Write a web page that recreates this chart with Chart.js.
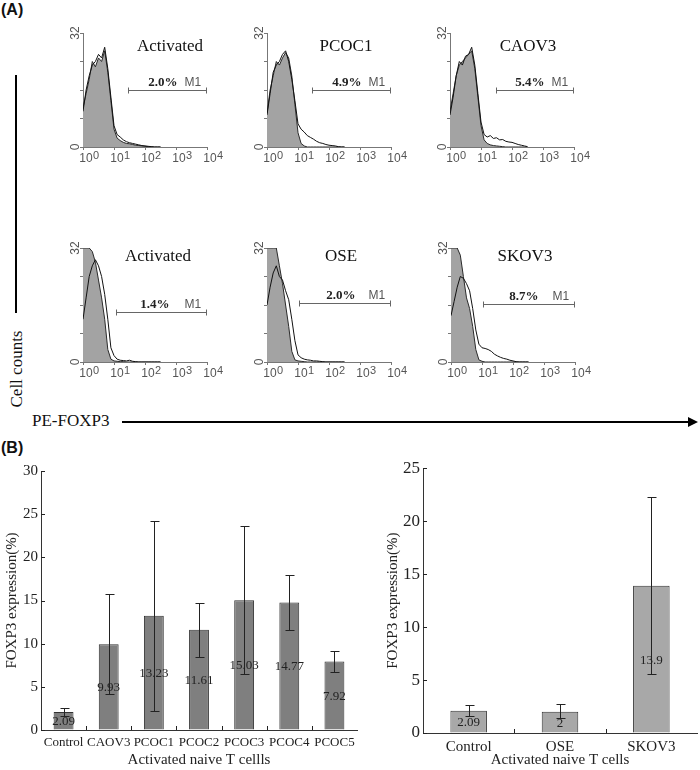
<!DOCTYPE html>
<html>
<head>
<meta charset="utf-8">
<script src="https://cdn.jsdelivr.net/npm/chart.js@4.4.1/dist/chart.umd.min.js"></script>
<style>
  body { margin: 0; background: #fff; }
  #fig { position: relative; width: 700px; height: 770px; background: #fff; overflow: hidden; }
  #fig canvas { position: absolute; }
  .lbl { position: absolute; white-space: nowrap; color: #111; }
  .serif { font-family: "Liberation Serif", "Times New Roman", serif; }
  .panel { font-family: "Liberation Sans", Arial, sans-serif; font-weight: bold; font-size: 16px; }
</style>
</head>
<body>
<div id="fig">
  <div class="lbl panel" style="left:1px; top:1px;">(A)</div>
  <div class="lbl panel" style="left:1px; top:439px;">(B)</div>

  <div style="position:absolute; left:15px; top:75px; width:2px; height:238px; background:#000;"></div>
  <div class="lbl serif" style="left:-43px; top:359px; width:120px; height:20px; line-height:20px; text-align:center; font-size:17px; transform:rotate(-90deg);">Cell counts</div>

  <div class="lbl serif" style="left:32px; top:411px; font-size:17px; line-height:20px;">PE-FOXP3</div>
  <div style="position:absolute; left:122px; top:421px; width:568px; height:2px; background:#000;"></div>
  <div style="position:absolute; left:688px; top:417px; width:0; height:0; border-left:10px solid #000; border-top:5px solid transparent; border-bottom:5px solid transparent;"></div>

  <canvas id="h0" width="174" height="168"></canvas>
  <canvas id="h1" width="174" height="168"></canvas>
  <canvas id="h2" width="174" height="168"></canvas>
  <canvas id="h3" width="174" height="168"></canvas>
  <canvas id="h4" width="174" height="168"></canvas>
  <canvas id="h5" width="174" height="168"></canvas>

  <canvas id="barLeft" width="360" height="315" style="left:0px; top:455px;"></canvas>
  <canvas id="barRight" width="340" height="315" style="left:360px; top:455px;"></canvas>
</div>

<script>
// ---------- panel A: histogram data (x in log10 units of PE-FOXP3) ----------
const binX = [0, 0.1, 0.2, 0.3, 0.4, 0.5, 0.6, 0.7, 0.8, 0.9, 1.0, 1.1, 1.2,
              1.3, 1.4, 1.5, 1.6, 1.7, 1.8, 1.9, 2.0, 2.1, 2.2, 2.3, 2.4, 2.5];
const decades = [0, 1, 2, 3, 4];

const histTitles = ['Activated', 'PCOC1', 'CAOV3', 'Activated', 'OSE', 'SKOV3'];
const gatePercents = ['2.0%', '4.9%', '5.4%', '1.4%', '2.0%', '8.7%'];
const gateStart = [1.45, 1.45, 1.48, 1.06, 1.03, 1.03];
const gateLevel = [16, 16, 16, 14, 16.5, 16.2];

// filled (grey) histograms
const filledAct1  = [11, 15, 19, 24, 22.5, 25, 24, 27, 21, 13, 5, 2.5, 1.8, 1.3, 1, 0.9, 0.7, 0.5, 0.4, 0.3, 0.2, 0.1, 0.1, 0, 0, 0];
const filledPcoc1 = [9.5, 16, 20, 24, 23, 25, 26.5, 25, 20, 12, 4, 1, 0.3, 0, 0, 0, 0, 0, 0, 0, 0, 0, 0, 0, 0, 0];
const filledCaov3 = [10, 15, 20, 23, 24, 25, 26, 27, 22, 14, 6, 2, 1, 0.6, 0.4, 0.3, 0.2, 0.1, 0, 0, 0, 0, 0, 0, 0, 0];
const filledAct2  = [32, 32, 32, 31, 28, 23, 18, 12, 3.5, 0.8, 0.3, 0.2, 0.1, 0.1, 0, 0, 0, 0, 0, 0, 0, 0, 0, 0, 0, 0];
const filledOse   = [32, 32, 32, 32, 27, 22, 16, 10, 3, 0.6, 0.3, 0.2, 0.1, 0, 0, 0, 0, 0, 0, 0, 0, 0, 0, 0, 0, 0];
const filledSkov3 = [32, 32, 32, 30, 24, 18, 15, 10, 3.5, 0.6, 0.2, 0, 0, 0, 0, 0, 0, 0, 0, 0, 0, 0, 0, 0, 0, 0];

// open (outline) histograms
const openAct1  = [10, 16, 20, 23, 24, 26, 25, 28, 22, 14, 6, 3.5, 2.8, 2, 1.5, 1.2, 1, 0.8, 0.6, 0.4, 0.3, 0.2, 0.1, 0, 0, 0];
const openPcoc1 = [9, 15, 21, 23, 24, 26, 27, 24, 19, 13, 6.5, 5, 4.2, 3.2, 2.7, 2.2, 1.6, 1.2, 1, 0.7, 0.5, 0.4, 0.3, 0.1, 0, 0];
const openCaov3 = [9, 14, 20, 24, 23, 25.5, 26, 28, 23, 15, 7, 3.5, 2.8, 3.2, 2.4, 2.6, 2, 2.1, 1.6, 1.4, 1.3, 1, 0.7, 0.5, 0.3, 0.1];
const openAct2  = [12, 18, 24, 27, 28.7, 27, 24, 19, 12, 4, 1.8, 0.8, 0.5, 0.4, 0.3, 0.5, 0.2, 0.1, 0, 0, 0, 0, 0, 0, 0, 0];
const openOse   = [16, 21, 25, 27, 24, 23, 20, 17.5, 12, 6, 2, 1.2, 0.8, 0.6, 0.5, 0.3, 0.3, 0.2, 0.1, 0, 0, 0, 0, 0, 0, 0];
const openSkov3 = [13, 17, 21, 24, 23.5, 22, 20, 15, 9, 5, 4, 3.8, 3.5, 3, 2.2, 1.7, 1.3, 1, 0.8, 0.5, 0.3, 0.1, 0, 0, 0, 0];

const filledSets = [filledAct1, filledPcoc1, filledCaov3, filledAct2, filledOse, filledSkov3];
const openSets = [openAct1, openPcoc1, openCaov3, openAct2, openOse, openSkov3];

// ---------- panel B: bar data ----------
const leftCats = ['Control', 'CAOV3', 'PCOC1', 'PCOC2', 'PCOC3', 'PCOC4', 'PCOC5'];
const leftVals = [2.09, 9.93, 13.23, 11.61, 15.03, 14.77, 7.92];
const leftErrHigh = [2.6, 15.7, 24.2, 14.7, 23.6, 18.0, 9.1];
const leftErrLow = [1.6, 4.2, 2.2, 8.5, 6.5, 11.6, 6.7];
const leftTicks = [0, 5, 10, 15, 20, 25, 30];

const rightCats = ['Control', 'OSE', 'SKOV3'];
const rightVals = [2.09, 2, 13.9];
const rightErrHigh = [2.6, 2.7, 22.3];
const rightErrLow = [1.6, 1.4, 5.6];
const rightTicks = [0, 5, 10, 15, 20, 25];

// ---------- layout / style ----------
const SERIF = '"Liberation Serif", "Times New Roman", serif';
const SANS = '"Liberation Sans", Arial, sans-serif';

// plot-area top-left of each histogram, plus title offset (px) inside it
const histLayout = [
    { left: 83,  top: 33,  tdx: 87, tdy: 14, pctOff: 29 },
    { left: 267, top: 33,  tdx: 79, tdy: 14, pctOff: 29 },
    { left: 450, top: 33,  tdx: 78, tdy: 14, pctOff: 29 },
    { left: 83,  top: 248, tdx: 75, tdy: 9,  pctOff: 37 },
    { left: 267, top: 248, tdx: 74, tdy: 9,  pctOff: 35 },
    { left: 451, top: 248, tdx: 74, tdy: 9,  pctOff: 36 }
];

function toPoints(ys) {
    return binX.map((x, i) => ({ x: x, y: ys[i] }));
}

function histDecor(i) {
    const lay = histLayout[i];
    return {
        id: 'histDecor' + i,
        afterDraw(chart) {
            const ctx = chart.ctx;
            const a = chart.chartArea;
            const xs = chart.scales.x, ys = chart.scales.y;
            ctx.save();
            // rotated y labels 0 and 32
            ctx.fillStyle = '#555';
            ctx.font = '12px ' + SANS;
            ctx.textAlign = 'center';
            ctx.textBaseline = 'middle';
            [0, 32].forEach(v => {
                ctx.save();
                ctx.translate(a.left - 7, ys.getPixelForValue(v));
                ctx.rotate(-Math.PI / 2);
                ctx.fillText(String(v), 0, 0);
                ctx.restore();
            });
            // x labels: 10 with raised exponent
            ctx.textAlign = 'left';
            ctx.textBaseline = 'alphabetic';
            decades.forEach(d => {
                const px = xs.getPixelForValue(d);
                ctx.font = '12px ' + SANS;
                const w10 = ctx.measureText('10').width;
                ctx.font = '11px ' + SANS;
                const we = ctx.measureText(String(d)).width;
                const x0 = px + 6 - (w10 + we) / 2;
                ctx.font = '12px ' + SANS;
                ctx.fillText('10', x0, a.bottom + 15);
                ctx.font = '11px ' + SANS;
                ctx.fillText(String(d), x0 + w10 + 0.5, a.bottom + 12);
            });
            // sample title
            ctx.textAlign = 'center';
            ctx.textBaseline = 'middle';
            ctx.fillStyle = '#111';
            ctx.font = '17px ' + SERIF;
            ctx.fillText(histTitles[i], a.left + lay.tdx, a.top + lay.tdy);
            // M1 gate
            const gx1 = Math.round(xs.getPixelForValue(gateStart[i])) + 0.5;
            const gx2 = Math.round(xs.getPixelForValue(4)) - 0.5;
            const gy = Math.round(ys.getPixelForValue(gateLevel[i])) + 0.5;
            ctx.strokeStyle = '#666';
            ctx.lineWidth = 1;
            ctx.beginPath();
            ctx.moveTo(gx1, gy); ctx.lineTo(gx2, gy);
            ctx.moveTo(gx1, gy - 3); ctx.lineTo(gx1, gy + 3);
            ctx.moveTo(gx2, gy - 3); ctx.lineTo(gx2, gy + 3);
            ctx.stroke();
            ctx.fillStyle = '#222';
            ctx.font = 'bold 13px ' + SERIF;
            ctx.textAlign = 'right';
            ctx.fillText(gatePercents[i], gx2 - lay.pctOff, gy - 8);
            ctx.fillStyle = '#555';
            ctx.font = '12px ' + SANS;
            ctx.textAlign = 'left';
            ctx.fillText('M1', gx2 - 22, gy - 8);
            ctx.restore();
        }
    };
}

function loadHistogram(i) {
    const lay = histLayout[i];
    const canvas = document.getElementById('h' + i);
    canvas.style.left = (lay.left - 30) + 'px';
    canvas.style.top = (lay.top - 30) + 'px';

    const config = {
        type: 'line',
        data: {
            datasets: [{
                data: toPoints(openSets[i]),
                borderColor: '#111',
                borderWidth: 1,
                pointRadius: 0,
                fill: false
            }, {
                data: toPoints(filledSets[i]),
                borderColor: '#2a2a2a',
                borderWidth: 1,
                backgroundColor: '#a3a3a3',
                pointRadius: 0,
                fill: 'origin'
            }]
        },
        options: {
            responsive: false,
            animation: false,
            layout: { padding: { top: 30, right: 20, left: 0, bottom: 0 } },
            plugins: { legend: { display: false }, tooltip: { enabled: false } },
            scales: {
                x: {
                    type: 'linear', min: 0, max: 4,
                    ticks: { stepSize: 1, display: false },
                    grid: { drawOnChartArea: false, tickLength: 3, color: '#777' },
                    border: { color: '#777' },
                    afterFit: s => { s.height = 24; }
                },
                y: {
                    min: 0, max: 32,
                    ticks: { stepSize: 8, display: false },
                    grid: { drawOnChartArea: false, tickLength: 3, color: '#777' },
                    border: { color: '#777' },
                    afterFit: s => { s.width = 30; }
                }
            }
        },
        plugins: [histDecor(i)]
    };
    new Chart(canvas, config);
}

// error bars, value labels and inward ticks for the bar charts
function barDecor(vals, lo, hi, ticks) {
    return {
        id: 'barDecor',
        afterDatasetsDraw(chart) {
            const ctx = chart.ctx;
            const a = chart.chartArea;
            const ys = chart.scales.y;
            const meta = chart.getDatasetMeta(0);
            ctx.save();
            // value labels at mid-bar
            ctx.fillStyle = '#222';
            ctx.font = '13px ' + SERIF;
            ctx.textAlign = 'center';
            ctx.textBaseline = 'middle';
            meta.data.forEach((bar, i) => {
                ctx.fillText(String(vals[i]), bar.x, (bar.y + bar.base) / 2 + 1);
            });
            // error bars
            ctx.strokeStyle = '#222';
            ctx.lineWidth = 1;
            ctx.beginPath();
            meta.data.forEach((bar, i) => {
                const x = Math.round(bar.x) + 0.5;
                const yh = Math.round(ys.getPixelForValue(hi[i])) + 0.5;
                const yl = Math.round(ys.getPixelForValue(lo[i])) + 0.5;
                ctx.moveTo(x, yh); ctx.lineTo(x, yl);
                ctx.moveTo(x - 4, yh); ctx.lineTo(x + 5, yh);
                ctx.moveTo(x - 4, yl); ctx.lineTo(x + 5, yl);
            });
            // inward ticks on y axis and category boundaries on x axis
            ticks.forEach(v => {
                const y = Math.round(ys.getPixelForValue(v)) + 0.5;
                ctx.moveTo(a.left, y); ctx.lineTo(a.left + 4, y);
            });
            const n = meta.data.length;
            for (let k = 1; k < n; k++) {
                const x = Math.round(a.left + k * (a.right - a.left) / n) + 0.5;
                ctx.moveTo(x, a.bottom); ctx.lineTo(x, a.bottom - 4);
            }
            ctx.stroke();
            ctx.restore();
        }
    };
}

function loadBarChart(id, cats, vals, lo, hi, ticks, o) {
    const config = {
        type: 'bar',
        data: {
            labels: cats,
            datasets: [{
                data: vals,
                backgroundColor: o.fill,
                borderColor: '#333',
                borderWidth: 1,
                barPercentage: o.barPct,
                categoryPercentage: 1
            }]
        },
        options: {
            responsive: false,
            animation: false,
            layout: { padding: { top: o.padTop, right: 3, left: 0, bottom: 0 } },
            plugins: { legend: { display: false }, tooltip: { enabled: false } },
            scales: {
                x: {
                    grid: { drawOnChartArea: false, drawTicks: false },
                    border: { color: '#333' },
                    ticks: { color: '#222', padding: 5, maxRotation: 0, autoSkip: false,
                             font: { family: SERIF, size: o.catSize } },
                    title: { display: true, text: o.xTitle, color: '#222', padding: { top: 0, bottom: 1 },
                             font: { family: SERIF, size: 15 } },
                    afterFit: s => { s.height = o.xHeight; }
                },
                y: {
                    min: 0, max: ticks[ticks.length - 1],
                    grid: { drawOnChartArea: false, drawTicks: false },
                    border: { color: '#333' },
                    ticks: { stepSize: 5, color: '#222', padding: 3,
                             font: { family: SERIF, size: o.tickSize } },
                    title: { display: true, text: 'FOXP3 expression(%)', color: '#222',
                             padding: { top: o.yTitlePad, bottom: 0 },
                             font: { family: SERIF, size: 15 } },
                    afterFit: s => { s.width = o.yWidth; }
                }
            }
        },
        plugins: [barDecor(vals, lo, hi, ticks)]
    };
    new Chart(document.getElementById(id), config);
}

for (let i = 0; i < 6; i++) loadHistogram(i);

loadBarChart('barLeft', leftCats, leftVals, leftErrLow, leftErrHigh, leftTicks, {
    fill: '#7f7f7f', barPct: 0.44, padTop: 16, catSize: 13, tickSize: 15,
    xTitle: 'Activated naive T cellls', xHeight: 40, yWidth: 41, yTitlePad: 3
});
loadBarChart('barRight', rightCats, rightVals, rightErrLow, rightErrHigh, rightTicks, {
    fill: '#a8a8a8', barPct: 0.4, padTop: 10, catSize: 15, tickSize: 17,
    xTitle: 'Activated naive T cells', xHeight: 37, yWidth: 63, yTitlePad: 24
});
</script>
</body>
</html>
